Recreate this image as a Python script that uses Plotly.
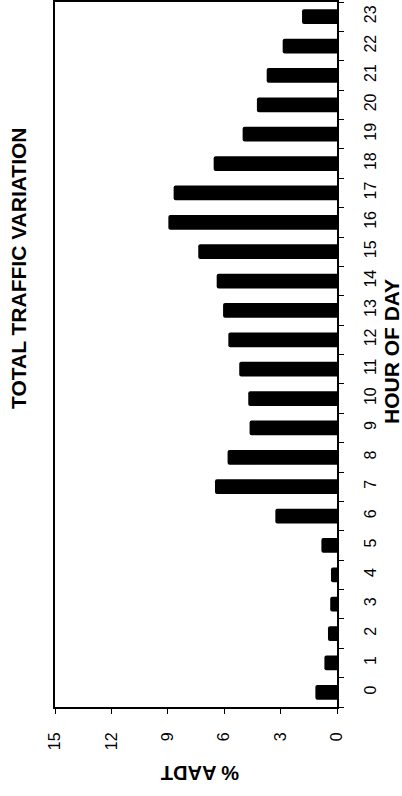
import plotly.graph_objects as go

# Data
hours = [str(h) for h in range(24)]
pct_aadt = [1.15, 0.67, 0.48, 0.36, 0.32, 0.83, 3.28, 6.49, 5.82, 4.65, 4.72, 5.20,
            5.78, 6.06, 6.40, 7.38, 8.97, 8.69, 6.56, 5.02, 4.26, 3.74, 2.89, 1.86]
pct_ticks = [0, 3, 6, 9, 12, 15]

FONT = "Arial"

# plot area in pixels
L, R, T, B = 55, 337, 2, 707
W, H = 402, 796

def px_x(x):
    return (x - L) / (R - L)

def px_y(y):
    return (B - y) / (B - T)

fig = go.Figure(go.Bar(
    x=pct_aadt, y=hours, orientation="h",
    marker=dict(color="black", line=dict(width=0), cornerradius=2),
    width=0.5,
))

fig.update_layout(
    width=W, height=H,
    margin=dict(l=L, r=W - R, t=T, b=H - B, autoexpand=False),
    paper_bgcolor="white", plot_bgcolor="white",
    showlegend=False,
    font=dict(family=FONT, color="black", size=16),
    xaxis=dict(
        range=[15, 0], tickvals=pct_ticks, ticktext=[str(v) for v in pct_ticks],
        ticks="outside", ticklen=5, tickcolor="black", tickwidth=1,
        tickangle=-90, tickfont=dict(size=16, family=FONT, color="black"),
        showline=True, linecolor="black", linewidth=2, mirror=True,
        showgrid=False, zeroline=False, ticklabelstandoff=12, automargin=False,
    ),
    yaxis=dict(
        type="category", categoryorder="array", categoryarray=hours,
        side="right", tickson="boundaries",
        ticks="outside", ticklen=5, tickcolor="black", tickwidth=1,
        tickangle=-90, tickfont=dict(size=16, family=FONT, color="black"),
        showline=True, linecolor="black", linewidth=2, mirror=True,
        showgrid=False, zeroline=False, ticklabelstandoff=18, automargin=False,
    ),
    annotations=[
        dict(text="<b>TOTAL TRAFFIC VARIATION</b>", textangle=-90,
             xref="paper", yref="paper", x=px_x(18), y=px_y(268),
             xanchor="center", yanchor="middle",
             showarrow=False, font=dict(size=21, family=FONT)),
        dict(text="<b>% AADT</b>", textangle=180,
             xref="paper", yref="paper", x=px_x(200), y=px_y(773),
             xanchor="center", yanchor="middle",
             showarrow=False, font=dict(size=20, family=FONT)),
        dict(text="<b>HOUR OF DAY</b>", textangle=-90,
             xref="paper", yref="paper", x=px_x(391), y=px_y(352),
             xanchor="center", yanchor="middle",
             showarrow=False, font=dict(size=21, family=FONT)),
    ],
)

fig.write_html("out.html", config={"displayModeBar": False},
               post_script="document.body.style.margin='0';document.body.style.overflow='hidden';")
